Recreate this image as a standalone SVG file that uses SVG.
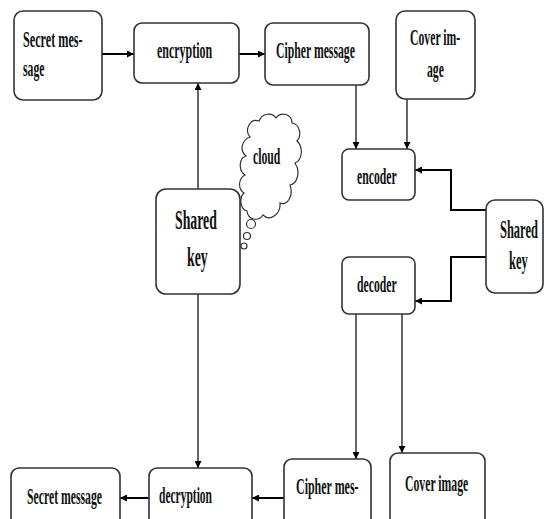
<svg xmlns="http://www.w3.org/2000/svg" width="544" height="519" viewBox="0 0 544 519">
  <defs>
    <marker id="arrow" viewBox="0 0 10 10" refX="10" refY="5" markerWidth="7" markerHeight="7" orient="auto" markerUnits="userSpaceOnUse">
      <path d="M0,0 L10,5 L0,10 z" fill="#000"/>
    </marker>
  </defs>
  <style>
    .box { fill: #fff; stroke: #333; stroke-width: 1.6; }
    .lbl { font-family: "Liberation Serif", "Times New Roman", serif; font-weight: bold; font-size: 23px; fill: #111; text-anchor: start; }
    .big { font-size: 26px; }
    .huge { font-size: 27px; }
    .conn { fill: none; stroke: #000; stroke-width: 1.2; marker-end: url(#arrow); }
    .thick { stroke-width: 2; }
    .cloud { fill: #fff; stroke: #333; stroke-width: 1.2; }
  </style>
  <rect width="544" height="519" fill="#fff"/>

  <!-- connectors -->
  <g id="connectors">
    <path class="conn thick" d="M102,54 H134"/>
    <path class="conn thick" d="M239,54 H265"/>
    <path class="conn" d="M198,189 V83"/>
    <path class="conn" d="M356,85 V149"/>
    <path class="conn" d="M407,99 V149"/>
    <path class="conn thick" d="M486,210 H451 V170 H415"/>
    <path class="conn thick" d="M486,257 H451 V301 H415"/>
    <path class="conn" d="M356,314 V459"/>
    <path class="conn" d="M402,314 V453"/>
    <path class="conn" d="M198,294 V468"/>
    <path class="conn thick" d="M284,498 H252"/>
    <path class="conn thick" d="M149,498 H120"/>
  </g>

  <!-- labels use a horizontally condensed serif: translate(x,y) scale(0.51,1) -->
  <g id="secret-message">
    <rect class="box" x="14" y="11" width="88" height="89" rx="9"/>
    <text class="lbl" transform="translate(23,47) scale(0.53,1)">Secret mes-</text>
    <text class="lbl" transform="translate(23,76) scale(0.51,1)">sage</text>
  </g>

  <g id="encryption">
    <rect class="box" x="134" y="23" width="105" height="60" rx="8"/>
    <text class="lbl" transform="translate(157,58) scale(0.52,1)">encryption</text>
  </g>

  <g id="cipher-message">
    <rect class="box" x="265" y="23" width="104" height="62" rx="8"/>
    <text class="lbl" transform="translate(276,58) scale(0.51,1)">Cipher message</text>
  </g>

  <g id="cover-image-in">
    <rect class="box" x="396" y="11" width="79" height="88" rx="9"/>
    <text class="lbl" transform="translate(410,45) scale(0.51,1)">Cover im-</text>
    <text class="lbl" transform="translate(427,77) scale(0.51,1)">age</text>
  </g>

  <g id="encoder">
    <rect class="box" x="342" y="149" width="73" height="51" rx="7"/>
    <text class="lbl" transform="translate(357,184) scale(0.51,1)">encoder</text>
  </g>

  <g id="decoder">
    <rect class="box" x="342" y="257" width="73" height="57" rx="7"/>
    <text class="lbl" transform="translate(357,292) scale(0.51,1)">decoder</text>
  </g>

  <g id="shared-key-right">
    <rect class="box" x="486" y="200" width="57" height="93" rx="9"/>
    <text class="lbl big" transform="translate(500,238) scale(0.48,1)">Shared</text>
    <text class="lbl big" transform="translate(509,269) scale(0.48,1)">key</text>
  </g>

  <g id="shared-key-center">
    <rect class="box" x="156" y="189" width="84" height="105" rx="10"/>
    <text class="lbl huge" transform="translate(175,229) scale(0.51,1)">Shared</text>
    <text class="lbl huge" transform="translate(187,266) scale(0.51,1)">key</text>
  </g>

  <g id="cloud">
    <path class="cloud" d="M250,137 C244,130 250,118 259,121 C262,113 272,112 276,118 C281,111 292,114 292,123 C300,124 302,136 297,141 C304,148 302,160 295,163 C301,172 297,184 290,185 C294,196 287,206 280,203 C281,214 270,222 263,215 C258,222 248,220 247,211 C240,209 239,198 244,193 C237,188 239,178 245,175 C238,170 239,158 246,156 C239,150 242,140 250,137 Z"/>
    <circle class="cloud" cx="251" cy="224" r="4.5"/>
    <circle class="cloud" cx="247" cy="236" r="3.5"/>
    <circle class="cloud" cx="244" cy="246" r="3"/>
    <text class="lbl" transform="translate(253,164) scale(0.51,1)">cloud</text>
  </g>

  <g id="secret-message-out">
    <rect class="box" x="11" y="468" width="109" height="62" rx="8"/>
    <text class="lbl" transform="translate(27,504) scale(0.51,1)">Secret message</text>
  </g>

  <g id="decryption">
    <rect class="box" x="149" y="468" width="103" height="62" rx="8"/>
    <text class="lbl" transform="translate(159,503) scale(0.5,1)">decryption</text>
  </g>

  <g id="cipher-message-out">
    <rect class="box" x="284" y="459" width="87" height="70" rx="8"/>
    <text class="lbl" transform="translate(296,494) scale(0.52,1)">Cipher mes-</text>
  </g>

  <g id="cover-image-out">
    <rect class="box" x="390" y="453" width="95" height="76" rx="8"/>
    <text class="lbl" transform="translate(405,491) scale(0.51,1)">Cover image</text>
  </g>
</svg>
